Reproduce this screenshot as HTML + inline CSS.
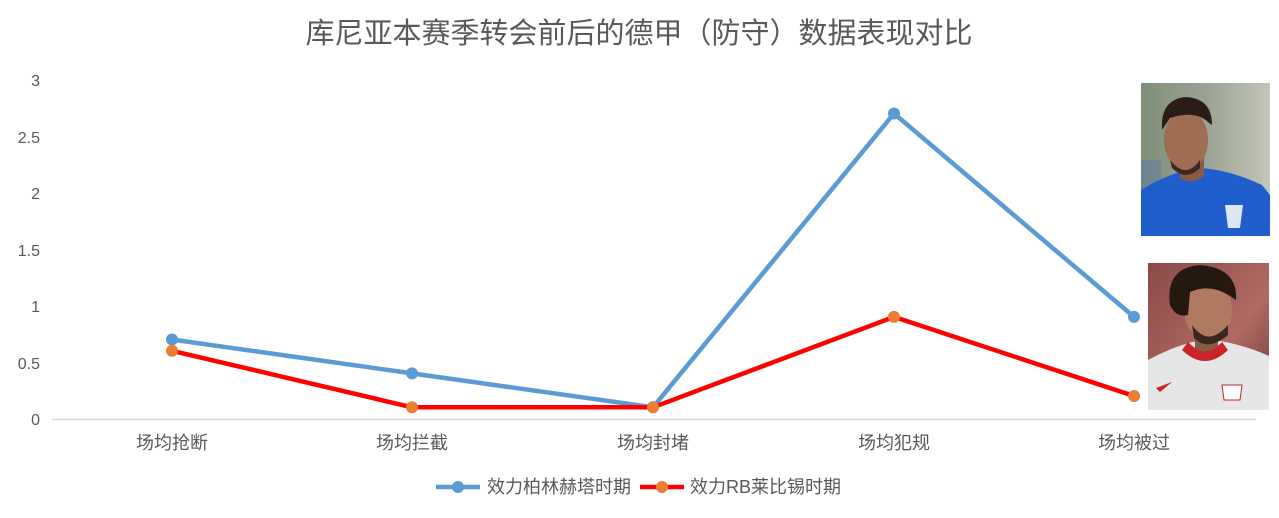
<!DOCTYPE html>
<html><head><meta charset="utf-8">
<style>
html,body{margin:0;padding:0;background:#fff;}
svg{display:block;}
text{font-family:"Liberation Sans","Noto Sans CJK SC",sans-serif;fill:#595959;}
</style></head>
<body>
<svg width="1279" height="518" viewBox="0 0 1279 518" xmlns="http://www.w3.org/2000/svg">
<defs>
<linearGradient id="bg1" x1="0" y1="0" x2="1" y2="0">
<stop offset="0" stop-color="#7f8f78"/><stop offset="0.5" stop-color="#9aa294"/><stop offset="1" stop-color="#c3c6b8"/>
</linearGradient>
<linearGradient id="bg2" x1="0" y1="0" x2="1" y2="1">
<stop offset="0" stop-color="#8a4a48"/><stop offset="0.6" stop-color="#b06a62"/><stop offset="1" stop-color="#6a3a3a"/>
</linearGradient>
</defs>
<rect width="1279" height="518" fill="#fff"/>
<text x="639" y="43" font-size="29" text-anchor="middle">库尼亚本赛季转会前后的德甲（防守）数据表现对比</text>

<!-- y labels -->
<g font-size="16" text-anchor="end">
<text x="40" y="425">0</text>
<text x="40" y="369">0.5</text>
<text x="40" y="312">1</text>
<text x="40" y="256">1.5</text>
<text x="40" y="199">2</text>
<text x="40" y="143">2.5</text>
<text x="40" y="86">3</text>
</g>
<line x1="52" y1="419.5" x2="1256" y2="419.5" stroke="#d9d9d9" stroke-width="1.5"/>

<!-- x labels -->
<g font-size="18" text-anchor="middle">
<text x="172" y="449">场均抢断</text>
<text x="412" y="449">场均拦截</text>
<text x="653" y="449">场均封堵</text>
<text x="894" y="449">场均犯规</text>
<text x="1134" y="449">场均被过</text>
</g>

<!-- photos -->
<g>
<rect x="1141" y="83" width="129" height="153" fill="url(#bg1)"/>
<rect x="1141" y="160" width="20" height="40" fill="#5a7aa8" opacity="0.5"/>
<path d="M1141 236 L1141 190 Q1160 178 1180 172 L1200 168 Q1230 170 1262 185 L1270 195 L1270 236 Z" fill="#1f5ccc"/>
<path d="M1180 150 L1180 178 Q1192 186 1204 176 L1204 150 Z" fill="#8a5a44"/>
<ellipse cx="1186" cy="140" rx="22" ry="30" fill="#a06c52"/>
<path d="M1162 130 Q1160 100 1185 97 Q1212 98 1212 125 L1208 122 Q1195 110 1170 118 Z" fill="#2a1c16"/>
<path d="M1170 160 Q1186 180 1200 160 L1200 168 Q1186 182 1172 168 Z" fill="#3a2a22"/>
<path d="M1225 205 L1243 205 L1240 228 L1228 228 Z" fill="#ffffff" opacity="0.85"/>
</g>
<g>
<rect x="1148" y="263" width="121" height="147" fill="url(#bg2)"/>
<path d="M1148 410 L1148 360 Q1170 348 1192 342 L1215 340 Q1245 345 1269 356 L1269 410 Z" fill="#e6e6e6"/>
<path d="M1188 342 Q1205 360 1222 342 L1228 350 Q1205 372 1182 350 Z" fill="#c8242a"/>
<path d="M1195 320 L1195 348 Q1205 356 1218 346 L1218 320 Z" fill="#8a5a44"/>
<ellipse cx="1208" cy="310" rx="24" ry="30" fill="#b07a60"/>
<path d="M1170 305 Q1165 268 1200 265 Q1238 268 1236 300 L1230 296 Q1210 283 1190 292 L1188 315 Q1176 318 1170 305 Z" fill="#24180f"/>
<path d="M1192 325 Q1208 348 1228 325 L1228 335 Q1208 352 1194 338 Z" fill="#3a2820"/>
<path d="M1156 388 L1172 382 L1160 392 Z" fill="#c8242a"/>
<path d="M1222 385 L1242 385 L1240 400 L1224 400 Z" fill="#fff" stroke="#c8242a" stroke-width="1"/>
</g>

<!-- series -->
<polyline points="172,339.5 412,373.4 653,407.3 894,113.5 1134,316.9" fill="none" stroke="#5b9bd5" stroke-width="4.5" stroke-linejoin="round"/>
<g fill="#5b9bd5">
<circle cx="172" cy="339.5" r="6"/><circle cx="412" cy="373.4" r="6"/><circle cx="653" cy="407.3" r="6"/><circle cx="894" cy="113.5" r="6"/><circle cx="1134" cy="316.9" r="6"/>
</g>
<polyline points="172,350.8 412,407.3 653,407.3 894,316.9 1134,396" fill="none" stroke="#ff0000" stroke-width="4.5" stroke-linejoin="round"/>
<g fill="#ed7d31">
<circle cx="172" cy="350.8" r="6"/><circle cx="412" cy="407.3" r="6"/><circle cx="653" cy="407.3" r="6"/><circle cx="894" cy="316.9" r="6"/><circle cx="1134" cy="396" r="6"/>
</g>

<!-- legend -->
<line x1="436" y1="487" x2="480" y2="487" stroke="#5b9bd5" stroke-width="4.5"/>
<circle cx="458" cy="487" r="6" fill="#5b9bd5"/>
<text x="487" y="493" font-size="18">效力柏林赫塔时期</text>
<line x1="640" y1="487" x2="684" y2="487" stroke="#ff0000" stroke-width="4.5"/>
<circle cx="662" cy="487" r="6" fill="#ed7d31"/>
<text x="690" y="493" font-size="18">效力RB莱比锡时期</text>
</svg>
</body></html>
